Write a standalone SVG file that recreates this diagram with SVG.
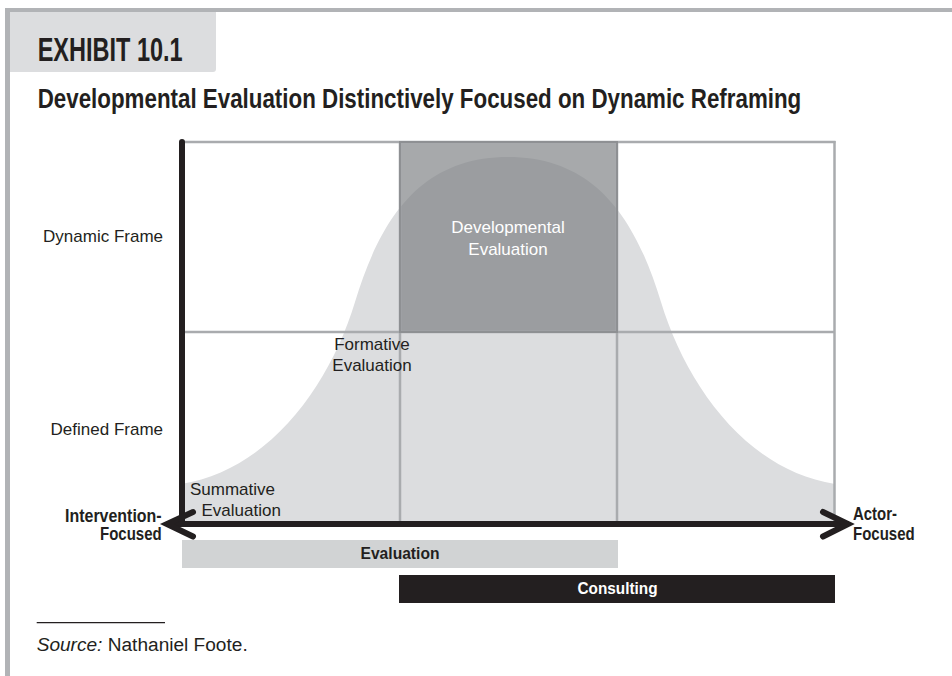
<svg xmlns="http://www.w3.org/2000/svg" width="952" height="676" viewBox="0 0 952 676">
<style>
  text { font-family: "Liberation Sans", Arial, Helvetica, sans-serif; fill: #231f20; }
  .lbl { font-size: 17px; }
  .bold { font-weight: bold; }
  .axlbl { font-size: 17.5px; font-weight: bold; }
  .grid { stroke: #a9abae; stroke-width: 2.5; fill: none; }
  .axis { stroke: #231f20; stroke-width: 6; fill: none; stroke-linecap: round; stroke-linejoin: miter; }
  .white { fill: #ffffff; }
</style>
<rect x="0" y="0" width="952" height="676" fill="#ffffff"/>

<g id="frame">
  <rect x="5" y="8" width="947" height="4" fill="#b1b3b6"/>
  <rect x="5" y="8" width="5" height="668" fill="#b1b3b6"/>
</g>

<g id="header">
  <path d="M10,12 H216 V69 Q216,72 213,72 H10 Z" fill="#dcdddf"/>
  <text x="37.7" y="61" font-size="33" class="bold" textLength="145" lengthAdjust="spacingAndGlyphs">EXHIBIT 10.1</text>
</g>

<g id="title">
  <text transform="translate(37.7,108.3) scale(0.798,1)" x="0" y="0" font-size="28" class="bold">Developmental Evaluation Distinctively Focused on Dynamic Reframing</text>
</g>

<g id="curve">
  <path d="M181,484 C270,470 330,384.5 355,302 C380,219.5 420,157 508,157 C596,157 636,219.5 661,302 C686,384.5 746,470 835,484 L835,524 L181,524 Z" fill="#dcdddf"/>
</g>

<g id="developmental-evaluation">
  <rect x="400" y="142" width="217" height="190" fill="#7a7c80" fill-opacity="0.66"/>
</g>

<g id="grid">
  <line class="grid" x1="182" y1="142" x2="835.5" y2="142"/>
  <line class="grid" x1="834.5" y1="141" x2="834.5" y2="521"/>
  <line class="grid" x1="185" y1="332" x2="834.5" y2="332"/>
  <line class="grid" x1="400" y1="142" x2="400" y2="521"/>
  <line class="grid" x1="617" y1="142" x2="617" y2="521"/>
  <rect x="400" y="142" width="217" height="190" fill="none" stroke="#8e9093" stroke-width="2"/>
</g>

<g id="connectors">
  <line class="axis" x1="182" y1="142" x2="182" y2="524" stroke-linecap="butt"/>
  <line class="axis" x1="169" y1="524" x2="844" y2="524" stroke-linecap="butt"/>
  <polyline class="axis" points="193,512 167,524 193,536.5"/>
  <polyline class="axis" points="823,512 848,524 823,536.5"/>
</g>

<g id="label-developmental">
  <text class="lbl white" x="508" y="233" text-anchor="middle">Developmental</text>
  <text class="lbl white" x="508" y="255" text-anchor="middle">Evaluation</text>
</g>

<g id="label-formative">
  <text class="lbl" x="372" y="350" text-anchor="middle">Formative</text>
  <text class="lbl" x="372" y="371" text-anchor="middle">Evaluation</text>
</g>

<g id="label-summative">
  <text class="lbl" x="190" y="495">Summative</text>
  <text class="lbl" x="201.5" y="516">Evaluation</text>
</g>

<g id="label-dynamic-frame">
  <text class="lbl" x="163" y="242" text-anchor="end">Dynamic Frame</text>
</g>
<g id="label-defined-frame">
  <text class="lbl" x="163" y="435" text-anchor="end">Defined Frame</text>
</g>

<g id="label-intervention">
  <text class="axlbl" x="161.7" y="521.5" text-anchor="end" textLength="96.7" lengthAdjust="spacingAndGlyphs">Intervention-</text>
  <text class="axlbl" x="161.7" y="540" text-anchor="end" textLength="61.7" lengthAdjust="spacingAndGlyphs">Focused</text>
</g>

<g id="label-actor">
  <text class="axlbl" x="853" y="520" textLength="44" lengthAdjust="spacingAndGlyphs">Actor-</text>
  <text class="axlbl" x="853" y="540" textLength="61.7" lengthAdjust="spacingAndGlyphs">Focused</text>
</g>

<g id="bar-evaluation">
  <rect x="182" y="540" width="436" height="28" fill="#d1d3d4"/>
  <text x="400" y="559" font-size="17" class="bold" text-anchor="middle" textLength="79" lengthAdjust="spacingAndGlyphs">Evaluation</text>
</g>

<g id="bar-consulting">
  <rect x="399" y="575" width="436" height="28" fill="#231f20"/>
  <text x="617.5" y="594" font-size="17" class="bold white" text-anchor="middle" textLength="80" lengthAdjust="spacingAndGlyphs">Consulting</text>
</g>

<g id="source">
  <line x1="36.7" y1="622.7" x2="165" y2="622.7" stroke="#231f20" stroke-width="1.3"/>
  <text x="36.7" y="650.7" font-size="18" textLength="211" lengthAdjust="spacingAndGlyphs"><tspan font-style="italic">Source:</tspan> Nathaniel Foote.</text>
</g>
</svg>
